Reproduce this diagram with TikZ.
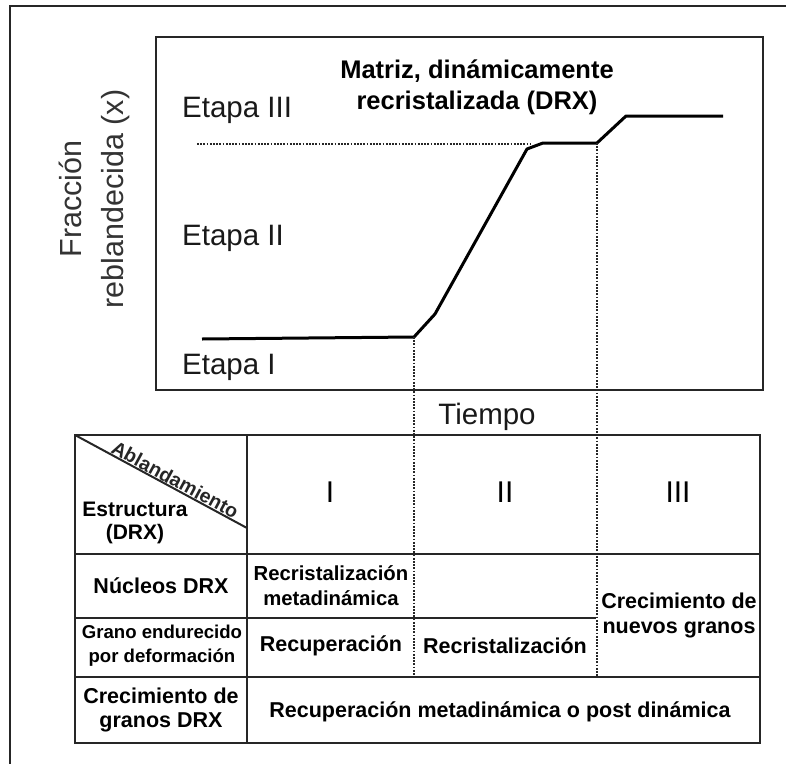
\documentclass[tikz,border=0pt]{standalone}
\usepackage{fontspec}
\setmainfont{Liberation Sans}
\usetikzlibrary{positioning,calc}
\tikzstyle{lbl}=[font=\fontsize{29.5}{34}\selectfont, inner sep=0pt, text=black!90]
\tikzstyle{hdr}=[font=\bfseries\fontsize{25.5}{30}\selectfont, inner sep=0pt, text=black]
\tikzstyle{cell}=[font=\bfseries\fontsize{21.5}{25}\selectfont, align=center, inner sep=0pt, text=black]
\tikzstyle{smallcell}=[font=\bfseries\fontsize{18.6}{25}\selectfont, align=center, inner sep=0pt, text=black]
\tikzstyle{roman}=[font=\fontsize{30}{34}\selectfont, inner sep=0pt, text=black]
\tikzstyle{tline}=[line width=2pt, black!85]
\tikzstyle{dline}=[line width=2.2pt, black!85, dash pattern=on 1.8pt off 1.4pt]
\tikzstyle{curve}=[line width=3pt, line join=round, black]

\begin{document}
\begin{tikzpicture}[x=1pt,y=-1pt]
\useasboundingbox (0,0) rectangle (786,763);
\draw[tline] (10,775) -- (10,6) -- (795,6);

% plot
\draw[tline] (156,37) rectangle (763,390);
\coordinate (c0) at (202,339);
\coordinate (c1) at (414,337);
\coordinate (c2) at (435,314);
\coordinate (c3) at (527,149);
\coordinate (c4) at (543,143);
\coordinate (c5) at (597,143);
\coordinate (c6) at (626,116);
\coordinate (c7) at (723,116);
\draw[curve] (c0) -- (c1) -- (c2) -- (c3) -- (c4) -- (c5) -- (c6) -- (c7);
\coordinate (h0) at (197,144);
\coordinate (h1) at (531,144);
\draw[dline] (h0) -- (h1);

\node (MTRZ) [hdr, anchor=base] at (477,78) {Matriz, dinámicamente};
\node (RECR) [hdr, anchor=base] at (477,109) {recristalizada (DRX)};
\node (ETIII) [lbl, anchor=base west] at (182,117) {Etapa III};
\node (ETII) [lbl, anchor=base west] at (182,245) {Etapa II};
\node (ETI) [lbl, anchor=base west] at (182,374) {Etapa I};
\node (YLBL) [lbl, rotate=90, align=center, text=black!80, font=\fontsize{30.5}{42}\selectfont] at (94,199) {Fracción\\reblandecida (x)};
\node (TIME) [lbl, anchor=base] at (487,424) {Tiempo};

% table
\coordinate (T0) at (75,435);
\coordinate (T1) at (760,743);
\coordinate (D1) at (247,528);
\coordinate (r3) at (414,677);
\draw[tline] (T0) rectangle (T1);
\draw[tline] (247,435) -- (247,743);
\draw[tline] (75,554) -- (760,554);
\draw[tline] (75,618) -- (596,618);
\draw[tline] (75,677) -- (760,677);
\draw[tline] (T0) -- node[sloped, above, pos=0.56, inner sep=0.3pt, font=\bfseries\fontsize{19.5}{22}\selectfont] (ABL) {Ablandamiento} (D1);
\draw[dline] (c1) -- (c1 |- r3);
\draw[dline] (c5) -- (c5 |- r3);

\node (EST) [cell, font=\bfseries\fontsize{21}{23}\selectfont] at (135,523) {Estructura\\(DRX)};
\node (SI) [roman] at (330,492) {I};
\node (SII) [roman] at (505,492) {II};
\node (SIII) [roman] at (678,492) {III};
\node (NUC) [cell] at (161,586) {Núcleos DRX};
\node (RMD) [cell, font=\bfseries\fontsize{20.3}{25}\selectfont] at (331,586) {Recristalización\\metadinámica};
\node (GEND) [smallcell, font=\bfseries\fontsize{18.6}{24}\selectfont] at (162,646) {Grano endurecido\\por deformación};
\node (RECU) [cell] at (331,646) {Recuperación};
\node (RECX) [cell] at (505,646) {Recristalización};
\node (CNG) [cell] at (679,615) {Crecimiento de\\nuevos granos};
\node (CGD) [cell, font=\bfseries\fontsize{21.5}{24}\selectfont] at (161,710) {Crecimiento de\\granos DRX};
\node (RMPD) [cell] at (500,712) {Recuperación metadinámica o post dinámica};
\end{tikzpicture}
\end{document}
